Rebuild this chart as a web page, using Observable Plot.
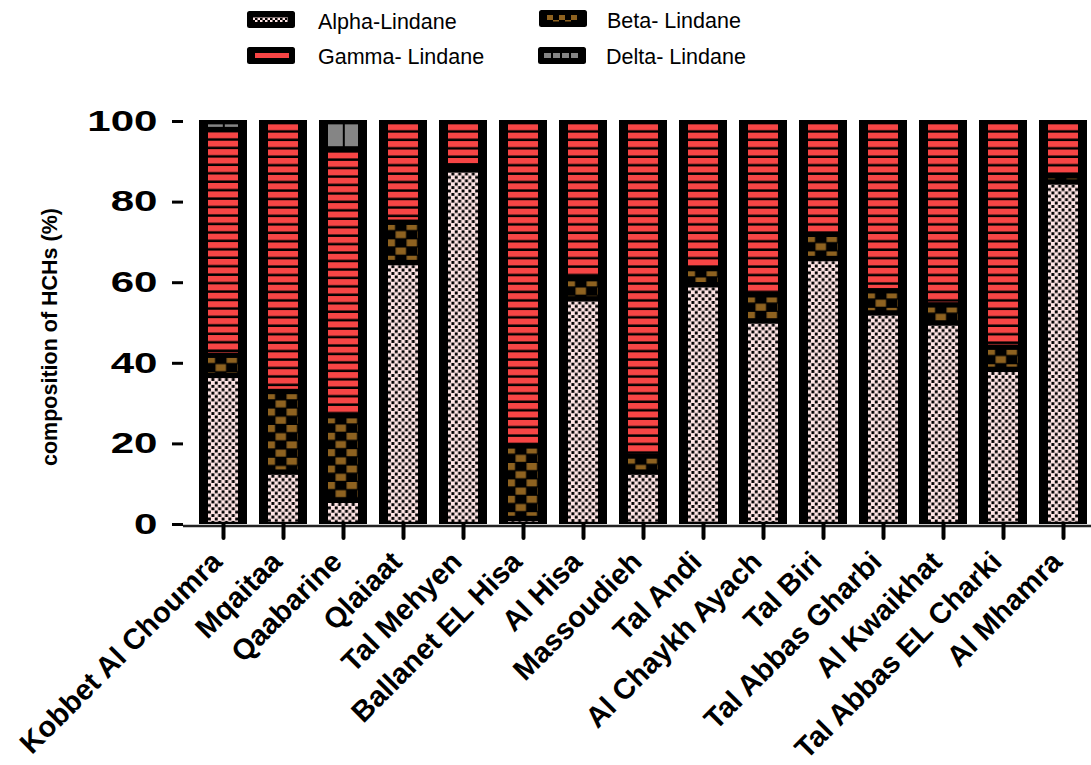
<!DOCTYPE html>
<html><head><meta charset="utf-8">
<script src="https://cdn.jsdelivr.net/npm/d3@7"></script>
<script src="https://cdn.jsdelivr.net/npm/@observablehq/plot@0.6"></script>
<style>
body{margin:0;background:#fff;}
#wrap{width:1091px;font-family:'Liberation Sans',Arial,sans-serif;}
svg{display:block;}
</style></head><body><div id="wrap"></div>
<script>
// ---- data ----
const sites = ["Kobbet Al Choumra","Mqaitaa","Qaabarine","Qlaiaat","Tal Mehyen","Ballanet EL Hisa","Al Hisa","Massoudieh","Tal Andi","Al Chaykh Ayach","Tal Biri","Tal Abbas Gharbi","Al Kwaikhat","Tal Abbas EL Charki","Al Mhamra"];
const alpha = [37, 13, 6, 65, 88, 1.5, 56, 13, 59.5, 50.5, 66, 52.5, 50, 38.5, 85];
const beta  = [5, 20, 21, 10, 1, 18, 5, 4, 4, 6.5, 6, 5.5, 4.5, 5.5, 1.5];
const gamma = [56, 67, 66, 25, 11, 80.5, 39, 83, 36.5, 43, 28, 42, 45.5, 56, 13.5];
const delta = [2, 0, 7, 0, 0, 0, 0, 0, 0, 0, 0, 0, 0, 0, 0];
const types = ["Alpha","Beta","Gamma","Delta"];
const legendLabels = ["Alpha-Lindane","Beta- Lindane","Gamma- Lindane","Delta- Lindane"];
const yTicks = [0, 20, 40, 60, 80, 100];
const yLabel = "composition of HCHs (%)";

// ---- styles ----
const PINK = "#ffe4e4", RED = "#f74545", BROWN = "#8e6220", GRAY = "#858585";

const series = {Alpha: alpha, Beta: beta, Gamma: gamma, Delta: delta};
const long = sites.flatMap((s, i) => types.map(t => ({site: s, type: t, value: series[t][i]}))).filter(d => d.value > 0);
const totals = sites.map((s, i) => ({site: s, total: types.reduce((a, t) => a + series[t][i], 0)}));

function addPattern(defs, type, id, ox, oy) {
  const p = defs.append("pattern").attr("id", id).attr("patternUnits", "userSpaceOnUse").attr("x", ox).attr("y", oy);
  if (type === "Alpha") {
    const c = 3.4, b = 2.9;
    p.attr("width", 2*c).attr("height", 2*c);
    p.append("rect").attr("width", 2*c).attr("height", 2*c).attr("fill", PINK);
    p.append("rect").attr("x", c).attr("y", 0).attr("width", b).attr("height", b).attr("fill", "#000");
    p.append("rect").attr("x", 0).attr("y", c).attr("width", b).attr("height", b).attr("fill", "#000");
  } else if (type === "Beta") {
    p.attr("width", 22).attr("height", 16.4);
    p.append("rect").attr("width", 22).attr("height", 16.4).attr("fill", "#000");
    p.append("rect").attr("x", 0.3).attr("y", 0).attr("width", 10.4).attr("height", 7).attr("fill", BROWN);
    p.append("rect").attr("x", 11.3).attr("y", 8.2).attr("width", 10.4).attr("height", 7).attr("fill", BROWN);
  } else if (type === "Gamma") {
    p.attr("width", 10).attr("height", 8.45);
    p.append("rect").attr("width", 10).attr("height", 8.45).attr("fill", "#000");
    p.append("rect").attr("width", 10).attr("height", 6).attr("fill", RED);
  } else {
    p.attr("width", 16.8).attr("height", 24);
    p.append("rect").attr("width", 16.8).attr("height", 24).attr("fill", "#000");
    p.append("rect").attr("width", 14.8).attr("height", 22).attr("fill", GRAY);
  }
}

// ---- legend ----
const wrap = d3.select("#wrap");
const leg = wrap.append("svg").attr("width", 1091).attr("height", 80)
  .style("font-family", "'Liberation Sans',Arial,sans-serif");
const legDefs = leg.append("defs");
const lp = legDefs.append("pattern").attr("id", "lg-alpha").attr("patternUnits", "userSpaceOnUse").attr("width", 5).attr("height", 5);
lp.append("rect").attr("width", 5).attr("height", 5).attr("fill", "#000");
lp.append("rect").attr("width", 2.5).attr("height", 2.5).attr("fill", PINK);
lp.append("rect").attr("x", 2.5).attr("y", 2.5).attr("width", 2.5).attr("height", 2.5).attr("fill", PINK);
const legPos = [
  {sx: 247, sy: 11, tx: 318, ty: 28.5},
  {sx: 539, sy: 10, tx: 607, ty: 27.5},
  {sx: 247, sy: 47, tx: 318, ty: 63.5},
  {sx: 538, sy: 47, tx: 606, ty: 63.5}
];
types.forEach((t, k) => {
  const {sx, sy, tx, ty} = legPos[k];
  const g = leg.append("g");
  g.append("rect").attr("x", sx).attr("y", sy).attr("width", 48).attr("height", 17).attr("rx", 2.5).attr("fill", "#000");
  if (t === "Alpha") {
    g.append("rect").attr("x", sx + 6).attr("y", sy + 6).attr("width", 35).attr("height", 5).attr("fill", "url(#lg-alpha)");
  } else if (t === "Beta") {
    for (let j = 0; j < 3; j++) g.append("rect").attr("x", sx + 8 + j * 12).attr("y", sy + 5).attr("width", 6).attr("height", 5).attr("fill", BROWN);
    for (let j = 0; j < 2; j++) g.append("rect").attr("x", sx + 14 + j * 12).attr("y", sy + 10).attr("width", 6).attr("height", 1.5).attr("fill", BROWN);
  } else if (t === "Gamma") {
    g.append("rect").attr("x", sx + 8).attr("y", sy + 6).attr("width", 34).attr("height", 5).attr("fill", RED);
  } else {
    for (let j = 0; j < 4; j++) g.append("rect").attr("x", sx + 6 + j * 9).attr("y", sy + 6).attr("width", 7).attr("height", 5).attr("fill", GRAY);
  }
  g.append("text").attr("x", tx).attr("y", ty).attr("font-size", 21.5).attr("fill", "#000").text(legendLabels[k]);
});

// ---- chart ----
const chart = Plot.plot({
  width: 1091,
  height: 685,
  marginLeft: 183,
  marginRight: 0,
  marginTop: 41,
  marginBottom: 241,
  style: {fontFamily: "'Liberation Sans',Arial,sans-serif", background: "white", color: "black"},
  x: {domain: sites, paddingInner: 0.193, paddingOuter: 0.0716, align: 0.8},
  y: {domain: [0, 100]},
  color: {type: "ordinal", domain: types, range: types.map(t => `url(#p-${t})`)},
  marks: [
    Plot.barY(totals, {x: "site", y: "total", fill: "black", insetTop: -1}),
    Plot.barY(long, {x: "site", y: "value", fill: "type", insetTop: 3.2, insetBottom: 2.2, insetLeft: 9, insetRight: 9}),
    Plot.ruleY([0], {stroke: "#222", strokeWidth: 2.5, dy: 1.5}),
    Plot.axisY({ticks: yTicks, tickSize: 11, tickPadding: 15, strokeWidth: 3, fontSize: 29, fontWeight: "bold", label: null, line: true}),
    // tick marks only
    Plot.axisX({tickSize: 14, strokeWidth: 4, strokeLinecap: "round", fill: "none", label: null}),
    // rotated labels only
    Plot.axisX({tickSize: 0, tickPadding: 32.5, dx: -6.5, tickRotate: -45, fontSize: 29, fontWeight: "bold", label: null}),
    Plot.text([yLabel], {frameAnchor: "left", textAnchor: "middle", dx: -133, dy: 14, rotate: -90, fontSize: 21.5, fontWeight: "bold"})
  ]
});
wrap.node().appendChild(chart);

// patterns aligned to each drawn segment
const svg = d3.select(chart);
const defs = svg.insert("defs", ":first-child");
types.forEach(t => addPattern(defs, t, `p-${t}`, 0, 0));
let n = 0;
svg.selectAll("rect").each(function() {
  const f = this.getAttribute("fill");
  const m = f && f.match(/^url\(#p-(\w+)\)$/);
  if (!m) return;
  const t = m[1];
  const x = +this.getAttribute("x"), y = +this.getAttribute("y");
  const id = `p-${t}-${n++}`;
  if (t === "Beta") addPattern(defs, t, id, x - 3.7, y - 2);
  else addPattern(defs, t, id, x, y);
  this.setAttribute("fill", `url(#${id})`);
});
// widen y tick labels
svg.selectAll('g[aria-label="y-axis tick label"] text').each(function() {
  const tr = this.getAttribute("transform") || "";
  this.setAttribute("transform", tr + " scale(1.45,1)");
});
</script></body></html>
